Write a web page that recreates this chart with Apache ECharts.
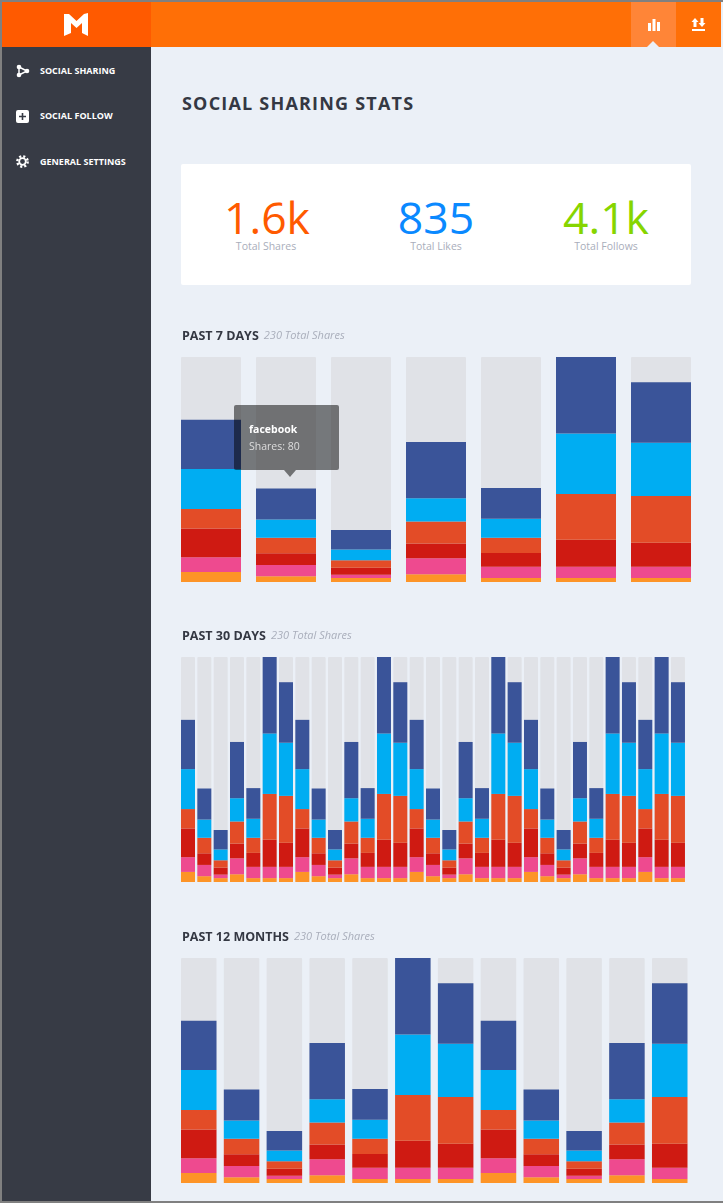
<!DOCTYPE html>
<html>
<head>
<meta charset="utf-8">
<title>Social Sharing Stats</title>
<script src="https://cdn.jsdelivr.net/npm/echarts@6/dist/echarts.min.js"></script>
<style>
html, body { margin: 0; padding: 0; width: 723px; height: 1203px; overflow: hidden; background: #ebf0f7; font-family: "Open Sans", sans-serif; }
.box { position: absolute; }
.txt { position: absolute; white-space: nowrap; }
.nav { left: 40px; color: #fff; font-size: 9px; font-weight: 700; line-height: 12px; }
.big { top: 187px; width: 170px; margin-left: -85px; text-align: center; font-size: 44.5px; line-height: 60px; }
.sub { top: 238px; width: 170px; margin-left: -85px; text-align: center; font-size: 10.5px; line-height: 16px; color: #a9aebb; }
#chart { position: absolute; left: 0; top: 0; width: 723px; height: 1203px; }
</style>
</head>
<body>
<div class="box" style="left:0;top:0;width:723px;height:2px;background:#808080"></div>
<div class="box" style="left:0;top:0;width:2px;height:1203px;background:#808080"></div>
<div class="box" style="left:0;top:1201px;width:723px;height:2px;background:#808080"></div>
<div class="box" style="left:2px;top:2px;width:149px;height:45px;background:#ff5a00"></div>
<div class="box" style="left:151px;top:2px;width:570px;height:45px;background:#ff6f06"></div>
<div class="box" style="left:631px;top:2px;width:45px;height:45px;background:#ff8537"></div>
<div class="box" style="left:647px;top:41px;width:0;height:0;border-left:6px solid transparent;border-right:6px solid transparent;border-bottom:6px solid #ebf0f7"></div>
<div class="box" style="left:2px;top:47px;width:149px;height:1154px;background:#373b45"></div>

<svg class="box" style="left:64px;top:13px" width="25" height="24" viewBox="0 0 25 24"><path d="M0 1 L5 1 L12.5 8 L20 1 L24 0 L24 23 L18 20 L18 10 L12.5 15 L7 10 L7 20 L0 23 Z" fill="#fff"/></svg>
<svg class="box" style="left:647px;top:18px" width="13" height="14" viewBox="0 0 13 14" fill="#fff"><rect x="1" y="5" width="3" height="8"/><rect x="5.5" y="1" width="3" height="12"/><rect x="10" y="4" width="3" height="9"/></svg>
<svg class="box" style="left:691px;top:17px" width="15" height="15" viewBox="0 0 15 15" fill="#fff"><path d="M4 1 L7.5 5 L5.5 5 L5.5 10 L2.5 10 L2.5 5 L.5 5 Z"/><path d="M11 10 L7.5 6 L9.5 6 L9.5 1 L12.5 1 L12.5 6 L14.5 6 Z"/><rect x="1" y="12" width="13" height="2"/></svg>
<svg class="box" style="left:16px;top:64px" width="14" height="14" viewBox="0 0 14 14"><path d="M3 3 L11 7 L3 11 Z" fill="none" stroke="#fff" stroke-width="1.5"/><circle cx="3" cy="3" r="2.3" fill="#fff"/><circle cx="11" cy="7" r="2.3" fill="#fff"/><circle cx="3" cy="11" r="2.3" fill="#fff"/></svg>
<svg class="box" style="left:16px;top:110px" width="13" height="13" viewBox="0 0 13 13"><rect width="13" height="13" rx="2" fill="#fff"/><path d="M6.5 3 V10 M3 6.5 H10" stroke="#373b45" stroke-width="1.6"/></svg>
<svg class="box" style="left:16px;top:155px" width="13" height="13" viewBox="0 0 13 13"><circle cx="6.5" cy="6.5" r="5.2" fill="none" stroke="#fff" stroke-width="2.4" stroke-dasharray="2.1 2"/><circle cx="6.5" cy="6.5" r="3.3" fill="none" stroke="#fff" stroke-width="1.8"/></svg>

<div class="txt nav" style="top:65px">SOCIAL SHARING</div>
<div class="txt nav" style="top:110px">SOCIAL FOLLOW</div>
<div class="txt nav" style="top:156px">GENERAL SETTINGS</div>

<div class="txt" style="left:182px;top:90px;font-size:18px;line-height:26px;font-weight:700;letter-spacing:1.2px;color:#343843">SOCIAL SHARING STATS</div>

<div class="box" style="left:181px;top:164px;width:510px;height:121px;background:#fff;border-radius:2px"></div>
<div class="txt big" style="left:267px;color:#ff5a00">1.6k</div>
<div class="txt big" style="left:436px;color:#0a89ff">835</div>
<div class="txt big" style="left:606px;color:#86d500">4.1k</div>
<div class="txt sub" style="left:266px">Total Shares</div>
<div class="txt sub" style="left:436px">Total Likes</div>
<div class="txt sub" style="left:606px">Total Follows</div>

<div id="chart"></div>

<script>
// past 7 days, bottom of the stack first
let weekDays = ['Mon', 'Tue', 'Wed', 'Thu', 'Fri', 'Sat', 'Sun'];
let weekRss       = [26, 15, 10, 20, 10, 10, 10];
let weekDribbble  = [38, 29, 9, 41, 29, 29, 29];
let weekPinterest = [74, 30, 18, 38, 36, 70, 62];
let weekReddit    = [50, 40, 19, 57, 39, 118, 121];
let weekTwitter   = [103, 47, 28, 60, 49, 156, 137];
let weekFacebook  = [127, 80, 50, 145, 79, 197, 156];

// past 30 days
let monthDays = ['1', '2', '3', '4', '5', '6', '7', '8', '9', '10', '11', '12', '13', '14', '15', '16', '17', '18', '19', '20', '21', '22', '23', '24', '25', '26', '27', '28', '29', '30', '31'];
let monthRss       = [26, 15, 10, 20, 10, 10, 10, 26, 15, 10, 20, 10, 10, 10, 26, 15, 10, 20, 10, 10, 10, 26, 15, 10, 20, 10, 10, 10, 26, 10, 10];
let monthDribbble  = [38, 29, 9, 41, 29, 29, 29, 38, 29, 9, 41, 29, 29, 29, 38, 29, 9, 41, 29, 29, 29, 38, 29, 9, 41, 29, 29, 29, 38, 29, 29];
let monthPinterest = [74, 30, 18, 38, 36, 70, 62, 74, 30, 18, 38, 36, 70, 62, 74, 30, 18, 38, 36, 70, 62, 74, 30, 18, 38, 36, 70, 62, 74, 70, 62];
let monthReddit    = [50, 40, 19, 57, 39, 118, 121, 50, 40, 19, 57, 39, 118, 121, 50, 40, 19, 57, 39, 118, 121, 50, 40, 19, 57, 39, 118, 121, 50, 118, 121];
let monthTwitter   = [103, 47, 28, 60, 49, 156, 137, 103, 47, 28, 60, 49, 156, 137, 103, 47, 28, 60, 49, 156, 137, 103, 47, 28, 60, 49, 156, 137, 103, 156, 137];
let monthFacebook  = [127, 80, 50, 145, 79, 197, 156, 127, 80, 50, 145, 79, 197, 156, 127, 80, 50, 145, 79, 197, 156, 127, 80, 50, 145, 79, 197, 156, 127, 197, 156];

// past 12 months
let yearMonths = ['Jan', 'Feb', 'Mar', 'Apr', 'May', 'Jun', 'Jul', 'Aug', 'Sep', 'Oct', 'Nov', 'Dec'];
let yearRss       = [26, 15, 10, 20, 10, 10, 10, 26, 15, 10, 20, 10];
let yearDribbble  = [38, 29, 9, 41, 29, 29, 29, 38, 29, 9, 41, 29];
let yearPinterest = [74, 30, 18, 38, 36, 70, 62, 74, 30, 18, 38, 62];
let yearReddit    = [50, 40, 19, 57, 39, 118, 121, 50, 40, 19, 57, 121];
let yearTwitter   = [103, 47, 28, 60, 49, 156, 137, 103, 47, 28, 60, 137];
let yearFacebook  = [127, 80, 50, 145, 79, 197, 156, 127, 80, 50, 145, 156];

let networks = ['rss', 'dribbble', 'pinterest', 'reddit', 'twitter', 'facebook'];
let colors = ['#fd9427', '#ee4a8f', '#cf1a12', '#e34c27', '#00adf2', '#3a5499'];
let maxShares = 580;

let headingRich = {
    a: { fontFamily: 'Open Sans', fontSize: 12.5, fontWeight: 700, color: '#343843' },
    b: { fontFamily: 'Open Sans', fontSize: 11, fontWeight: 400, fontStyle: 'italic', color: '#a9aebb' }
};

let heading = (text, top) => ({
    left: 182,
    top: top,
    padding: 0,
    text: `{a|${text}} {b|230 Total Shares}`,
    textStyle: { rich: headingRich }
});

let stack = (rows, axisIndex, barWidth) => rows.map((row, i) => ({
    name: networks[i],
    type: 'bar',
    stack: 'shares' + axisIndex,
    xAxisIndex: axisIndex,
    yAxisIndex: axisIndex,
    barWidth: barWidth,
    showBackground: i === 0,
    backgroundStyle: { color: '#e0e2e7', borderRadius: 1 },
    itemStyle: { color: colors[i] },
    data: row
}));

let xAxis = (data, gridIndex) => ({ type: 'category', gridIndex: gridIndex, data: data, show: false });
let yAxis = gridIndex => ({ type: 'value', gridIndex: gridIndex, min: 0, max: maxShares, show: false });

let option = {
    animation: false,
    title: [
        heading('PAST 7 DAYS', 327),
        heading('PAST 30 DAYS', 627),
        heading('PAST 12 MONTHS', 928)
    ],
    tooltip: {
        trigger: 'item',
        triggerOn: 'none',
        alwaysShowContent: true,
        transitionDuration: 0,
        padding: 0,
        borderWidth: 0,
        backgroundColor: 'rgba(0,0,0,0.5)',
        extraCssText: 'box-shadow:none;border-radius:2px;width:105px;height:65px;',
        position: [234, 405],
        formatter: p => `<div style="position:absolute;left:15px;top:15px;font:700 10.5px/18px 'Open Sans';color:#fff">${p.seriesName}</div>`
            + `<div style="position:absolute;left:15px;top:32px;font:400 10.5px/18px 'Open Sans';color:#ddd">Shares: ${p.value}</div>`
            + `<div style="position:absolute;left:50px;top:65px;width:0;height:0;border-left:6px solid transparent;border-right:6px solid transparent;border-top:7px solid rgba(0,0,0,0.5)"></div>`
    },
    grid: [
        { left: 173.5, top: 357, width: 525, height: 225 },
        { left: 179.83, top: 657, width: 506.3, height: 225 },
        { left: 177.34, top: 958, width: 513.8, height: 225 }
    ],
    xAxis: [xAxis(weekDays, 0), xAxis(monthDays, 1), xAxis(yearMonths, 2)],
    yAxis: [yAxis(0), yAxis(1), yAxis(2)],
    series: [
        ...stack([weekRss, weekDribbble, weekPinterest, weekReddit, weekTwitter, weekFacebook], 0, 60),
        ...stack([monthRss, monthDribbble, monthPinterest, monthReddit, monthTwitter, monthFacebook], 1, 14),
        ...stack([yearRss, yearDribbble, yearPinterest, yearReddit, yearTwitter, yearFacebook], 2, 35.5)
    ]
};

let myChart = echarts.init(document.getElementById('chart'));
myChart.setOption(option);
myChart.dispatchAction({ type: 'showTip', seriesIndex: 5, dataIndex: 1 });
</script>
</body>
</html>
